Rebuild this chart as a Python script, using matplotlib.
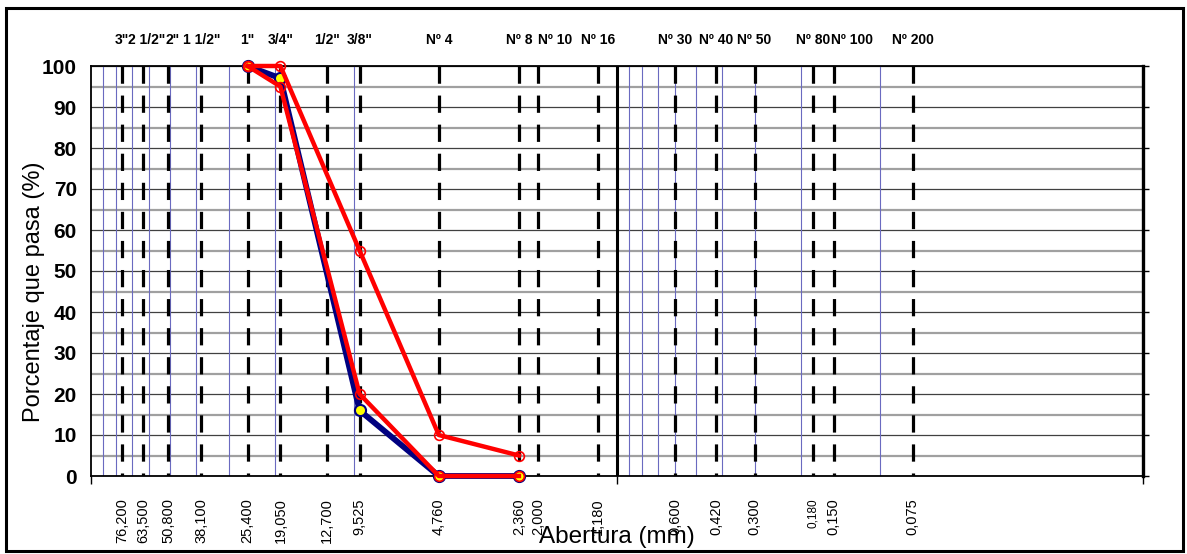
import matplotlib
matplotlib.use("Agg")
import matplotlib.pyplot as plt
from matplotlib.patches import Rectangle
from matplotlib.ticker import FixedLocator, FixedFormatter, NullFormatter

plt.rcParams['font.family'] = ['Liberation Sans', 'DejaVu Sans']

# tamices ASTM
sieve_mm = [76.2, 63.5, 50.8, 38.1, 25.4, 19.05, 12.7, 9.525, 4.76, 2.36, 2.0,
            1.18, 0.6, 0.42, 0.3, 0.18, 0.15, 0.075]
sieve_names = ['3"', '2 1/2"', '2"', '1 1/2"', '1"', '3/4"', '1/2"', '3/8"', 'Nº 4',
               'Nº 8', 'Nº 10', 'Nº 16', 'Nº 30', 'Nº 40', 'Nº 50', 'Nº 80',
               'Nº 100', 'Nº 200']
sieve_labels = ['76,200', '63,500', '50,800', '38,100', '25,400', '19,050', '12,700',
                '9,525', '4,760', '2,360', '2,000', '1,180', '0,600', '0,420',
                '0,300', '0,180', '0,150', '0,075']

# curva granulometrica y limites
grain_mm = [25.4, 19.05, 9.525, 4.76, 2.36]
pasa_muestra = [100, 97, 16, 0, 0]
pasa_lim_sup = [100, 100, 55, 10, 5]
pasa_lim_inf = [100, 95, 20, 0, 0]

y_ticks = list(range(0, 101, 10))
y_minor = list(range(5, 100, 10))

# sideways nudge (px) of the crowded sieve names on top
name_shift = {'2 1/2"': 4, '2"': 4, 'Nº 10': 17, 'Nº 100': 18}

W, H = 1187, 554
fig = plt.figure(figsize=(W / 100, H / 100), dpi=100)
ax = fig.add_axes([91 / W, 1 - 476 / H, (1143 - 91) / W, (476 - 66) / H])
ax.set_xscale('log')
ax.set_xlim(100, 0.01)
ax.set_ylim(0, 100)
ax.set_axisbelow(True)

# horizontal grid
ax.set_yticks(y_ticks)
ax.yaxis.set_minor_locator(FixedLocator(y_minor))
ax.grid(which='major', axis='y', color='#404040', lw=0.9)
ax.grid(which='minor', axis='y', color='#a0a0a0', lw=1.6)

# thin blue lines, only 100-10 and 1-0.1 decades
for dec in [10, 0.1]:
    for k in range(1, 10):
        ax.axvline(k * dec, color='#6a6ac0', lw=0.8, zorder=1.5)
ax.axvline(1, color='black', lw=2.2, zorder=1.6)

# sieve lines
ax.vlines(sieve_mm, 100, 0, colors='black', linestyles=(0, (5.4, 3.7)), lw=2.3, zorder=2)

# series
ax.plot(grain_mm, pasa_muestra, color='#000080', lw=4.2, marker='o', ms=8,
        mfc='#ffff00', mec='#000080', mew=1.5, zorder=3, clip_on=False)
ax.plot(grain_mm, pasa_lim_sup, color='#ff0000', lw=3.2, marker='o', ms=7,
        mfc='none', mec='#ff0000', mew=1.2, zorder=4, clip_on=False)
ax.plot(grain_mm, pasa_lim_inf, color='#ff0000', lw=3.2, marker='o', ms=7,
        mfc='none', mec='#ff0000', mew=1.2, zorder=4, clip_on=False)

# x ticks
ax.xaxis.set_major_locator(FixedLocator([100, 1, 0.01]))
ax.xaxis.set_major_formatter(NullFormatter())
ax.xaxis.set_minor_locator(FixedLocator(sieve_mm))
ax.xaxis.set_minor_formatter(FixedFormatter(sieve_labels))
ax.tick_params(axis='x', which='major', length=6, width=1, direction='out')
ax.tick_params(axis='x', which='minor', length=0, pad=16, labelsize=10.5,
               labelrotation=90)
for lbl in ax.xaxis.get_minorticklabels():
    if lbl.get_text() == '0,180':
        lbl.set_fontsize(8.5)

# y ticks
ax.tick_params(axis='y', which='major', left=False, right=True, length=4.3,
               width=1, direction='out', pad=5.8, labelsize=15)
ax.tick_params(axis='y', which='minor', length=0)
for lbl in ax.get_yticklabels():
    lbl.set_fontweight('bold')

for side in ['left', 'bottom', 'top']:
    ax.spines[side].set_color('black')
    ax.spines[side].set_linewidth(1.3)
ax.spines['right'].set_linewidth(2.4)

# sieve names on top
for x, name in zip(sieve_mm, sieve_names):
    ax.annotate(name, xy=(x, 1.063), xycoords=ax.get_xaxis_transform(),
                xytext=(name_shift.get(name, 0) * 0.72, 0), textcoords='offset points',
                ha='center', va='center', fontsize=10, fontweight='bold')

ax.set_ylabel('Porcentaje que pasa (%)', fontsize=17)
ax.yaxis.set_label_coords((34 - 91) / 1052, (476 - 292) / 410)
ax.yaxis.label.set_va('center')
ax.set_xlabel('Abertura (mm)', fontsize=17.5)
ax.xaxis.set_label_coords((617 - 91) / 1052, (476 - 537) / 410)
ax.xaxis.label.set_va('center')

# outer frame
fig.patches.append(Rectangle((6 / W, 3 / H), 1177 / W, 543 / H, transform=fig.transFigure,
                             fill=False, edgecolor='black', lw=2.2))

fig.savefig('out.png', dpi=100)
